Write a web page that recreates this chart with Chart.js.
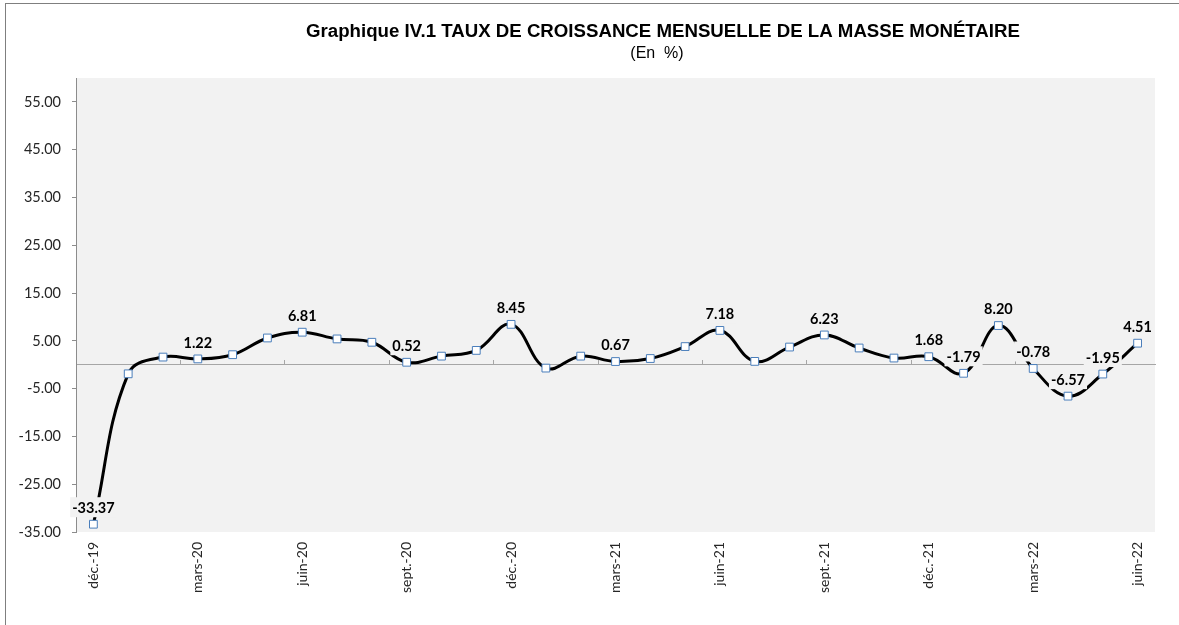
<!DOCTYPE html>
<html>
<head>
<meta charset="utf-8">
<script src="https://cdn.jsdelivr.net/npm/chart.js@4.4.1/dist/chart.umd.min.js"></script>
<style>
  html, body { margin: 0; padding: 0; background: #fff; }
  canvas { display: block; }
</style>
</head>
<body>
<canvas id="chart" width="1179" height="625"></canvas>
<script>
// GRAPHIQUE IV.1 - monthly growth of the money supply

const months = [
  'déc.-19', 'janv.-20', 'févr.-20', 'mars-20', 'avr.-20', 'mai-20', 'juin-20', 'juil.-20',
  'août-20', 'sept.-20', 'oct.-20', 'nov.-20', 'déc.-20', 'janv.-21', 'févr.-21', 'mars-21',
  'avr.-21', 'mai-21', 'juin-21', 'juil.-21', 'août-21', 'sept.-21', 'oct.-21', 'nov.-21',
  'déc.-21', 'janv.-22', 'févr.-22', 'mars-22', 'avr.-22', 'mai-22', 'juin-22'
];

const growth = [
  -33.37, -1.9, 1.6, 1.22, 2.1, 5.6, 6.81, 5.4,
  4.7, 0.52, 1.8, 3.0, 8.45, -0.7, 1.8, 0.67,
  1.3, 3.8, 7.18, 0.7, 3.7, 6.23, 3.5, 1.4,
  1.68, -1.79, 8.20, -0.78, -6.57, -1.95, 4.51
];

// points that carry a value label
const labelledPoints = [0, 3, 6, 9, 12, 15, 18, 21, 24, 25, 26, 27, 28, 29, 30];

const yTicks = [-35, -25, -15, -5, 5, 15, 25, 35, 45, 55];

const titleText = 'Graphique IV.1 TAUX DE CROISSANCE MENSUELLE DE LA MASSE MONÉTAIRE';
const subtitleText = '(En  %)';

const PLOT_BG = '#F2F2F2';
const AXIS_GREY = '#8C8C8C';

const chartDecor = {
  id: 'chartDecor',
  beforeDraw(chart) {
    const { ctx, chartArea } = chart;
    ctx.save();
    ctx.fillStyle = PLOT_BG;
    ctx.fillRect(chartArea.left, chartArea.top, chartArea.right - chartArea.left, chartArea.bottom - chartArea.top);
    ctx.restore();
  },
  afterDatasetsDraw(chart) {
    const ctx = chart.ctx;
    const meta = chart.getDatasetMeta(0);
    ctx.save();
    ctx.font = 'bold 14.5px Lato';
    ctx.textAlign = 'center';
    ctx.textBaseline = 'middle';
    labelledPoints.forEach(i => {
      const p = meta.data[i];
      const txt = growth[i].toFixed(2);
      const w = ctx.measureText(txt).width + 4;
      const y = p.y - 17;
      ctx.fillStyle = PLOT_BG;
      ctx.fillRect(p.x - w / 2, y - 10, w, 20);
      ctx.fillStyle = '#000';
      ctx.fillText(txt, p.x, y + 1);
    });
    ctx.restore();
  },
  afterDraw(chart) {
    const ctx = chart.ctx;
    ctx.save();
    ctx.strokeStyle = '#7F7F7F';
    ctx.lineWidth = 1;
    ctx.strokeRect(5.5, 3.5, 1400, 800);
    ctx.fillStyle = '#000';
    ctx.textAlign = 'center';
    ctx.textBaseline = 'alphabetic';
    ctx.font = 'bold 18.67px "Liberation Sans"';
    ctx.fillText(titleText, 663, 37);
    ctx.font = '16px "Liberation Sans"';
    ctx.fillText(subtitleText, 657, 58);
    ctx.restore();
  }
};

Chart.defaults.font.family = 'Lato';
Chart.defaults.color = '#262626';

new Chart(document.getElementById('chart').getContext('2d'), {
  type: 'line',
  data: {
    labels: months,
    datasets: [{
      data: growth,
      xAxisID: 'x',
      yAxisID: 'y',
      borderColor: '#000',
      borderWidth: 3,
      tension: 0.4,
      pointStyle: 'rect',
      pointRadius: 5.5,
      pointBorderWidth: 1,
      pointBorderColor: '#4A7EBB',
      pointBackgroundColor: '#fff'
    }]
  },
  options: {
    responsive: false,
    animation: false,
    layout: { padding: { top: 78, right: 24, left: 0, bottom: 0 } },
    plugins: {
      legend: { display: false },
      tooltip: { enabled: false }
    },
    scales: {
      x: {
        type: 'category',
        offset: true,
        grid: { display: false, drawTicks: false },
        border: { display: false },
        ticks: {
          autoSkip: false,
          minRotation: 90,
          maxRotation: 90,
          padding: 10,
          font: { size: 14 },
          callback: (v, i) => (i % 3 === 0 ? months[i] : '')
        },
        afterFit: s => { s.height = 93; }
      },
      x2: {
        type: 'linear',
        axis: 'x',
        position: { y: 0 },
        min: 0,
        max: months.length,
        afterBuildTicks: s => {
          const t = [];
          for (let i = 0; i < months.length; i += 3) t.push({ value: i });
          s.ticks = t;
        },
        ticks: { display: false },
        grid: { drawOnChartArea: false, drawTicks: true, tickLength: -5, color: '#A6A6A6' },
        border: { display: true, color: '#A6A6A6', width: 1 }
      },
      y: {
        min: -35,
        max: 60,
        afterBuildTicks: s => { s.ticks = yTicks.map(v => ({ value: v })); },
        grid: { drawOnChartArea: false, drawTicks: true, tickLength: 4, color: AXIS_GREY },
        border: { display: true, color: AXIS_GREY, width: 1 },
        ticks: {
          padding: 11,
          font: { size: 14.5 },
          callback: v => v.toFixed(2)
        },
        afterFit: s => { s.width = 76; }
      }
    }
  },
  plugins: [chartDecor]
});
</script>
</body>
</html>
